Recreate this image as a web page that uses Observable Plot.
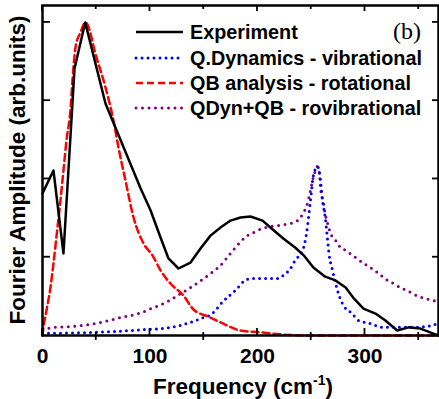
<!DOCTYPE html>
<html><head><meta charset="utf-8">
<script src="https://cdn.jsdelivr.net/npm/d3@7"></script>
<script src="https://cdn.jsdelivr.net/npm/@observablehq/plot@0.6"></script>
<style>body{margin:0;background:#fff}</style>
</head><body><div id="chart"></div>
<script>
// Experiment (black solid)
const expFreq = [0,10.2,19.5,29.8,39.7,58.6,91.2,100.5,109.8,117.2,126.5,137.7,147,156.3,165.6,174.9,184.2,193.5,204.7,212,224,235,243,252,263,272.6,282,289,298.6,309.8,319,330,340.5,351.6,363.7,368.4];
const expAmp  = [0.454,0.527,0.262,0.853,1.0,0.741,0.470,0.400,0.313,0.246,0.214,0.233,0.278,0.319,0.345,0.367,0.377,0.380,0.367,0.345,0.310,0.281,0.256,0.217,0.188,0.176,0.153,0.121,0.086,0.070,0.048,0.016,0.026,0.022,0.006,0.0];
// Q.Dynamics - vibrational (blue dotted)
const vibFreq = [0,50,95.8,110,128,147,158,168,179.5,190,196,209,218.6,224,230.7,235,242,245.6,249.3,252,255.8,258.6,260.5,263,265,266.5,269.8,274.4,279,288,294,305,317,330,345,358,367.4];
const vibAmp  = [0.007,0.010,0.019,0.022,0.032,0.054,0.070,0.109,0.144,0.179,0.182,0.182,0.182,0.192,0.214,0.240,0.272,0.326,0.431,0.511,0.540,0.495,0.431,0.377,0.313,0.262,0.208,0.144,0.102,0.070,0.048,0.038,0.026,0.026,0.026,0.029,0.038];
// QB analysis - rotational (red dashed)
const rotFreq = [0,0.9,3.7,7.4,10.2,13,16.7,19.5,22.3,26,28,30.7,35.3,40,50.2,58.6,66,70.7,77.2,84.7,94,102.3,109.8,119,131,140.5,153.5,165.6,184,203,224,252,368.4];
const rotAmp  = [0,0.026,0.080,0.153,0.230,0.316,0.431,0.527,0.623,0.72,0.82,0.92,0.968,1.0,0.888,0.792,0.687,0.600,0.495,0.377,0.294,0.256,0.208,0.166,0.128,0.083,0.061,0.042,0.016,0.010,0.003,0,0];
// QDyn+QB - rovibrational (purple dotted)
const rovFreq = [0,12,27,42.8,58.6,73.5,89.3,103.3,114.4,130.2,137.7,148.8,156.3,165.6,174.9,179.5,190.7,196.3,207.4,218.6,230.7,237.2,242.8,246.5,249.3,251.2,253,255.8,257.7,258.6,261.4,263.3,265,268,272.6,277.2,281.9,288.4,297.7,305,311.6,320.9,326.5,333,340.5,349.8,356.3,362.8,368.4];
const rovAmp  = [0.019,0.026,0.029,0.035,0.045,0.058,0.070,0.089,0.105,0.137,0.153,0.179,0.198,0.224,0.262,0.281,0.319,0.329,0.345,0.351,0.358,0.367,0.393,0.422,0.463,0.495,0.518,0.540,0.518,0.473,0.422,0.383,0.361,0.326,0.304,0.281,0.272,0.256,0.233,0.217,0.201,0.176,0.166,0.153,0.141,0.125,0.118,0.112,0.108];

const xTickLabels = [0,100,200,300];
const xMinorTicks = [50,150,250,350];
const yTicks = [0.25,0.5,0.75,1.0];
const seriesNames = ["Experiment","Q.Dynamics - vibrational","QB analysis - rotational","QDyn+QB - rovibrational"];
const panelLabel = "(b)";
const xTitle = "Frequency (cm";
const xTitleSup = "-1";
const yTitle = "Fourier Amplitude (arb.units)";

const toRows = (f, a) => f.map((v, i) => ({f: v, a: a[i]}));
const expData = toRows(expFreq, expAmp);
const vibData = toRows(vibFreq, vibAmp);
const rotData = toRows(rotFreq, rotAmp);
const rovData = toRows(rovFreq, rovAmp);

const styles = [
  {stroke:"#000000", strokeWidth:2.5, strokeDasharray:null, cap:"butt"},
  {stroke:"#0000ff", strokeWidth:3, strokeDasharray:"0 6", cap:"round"},
  {stroke:"#ff0000", strokeWidth:2.5, strokeDasharray:"7 4", cap:"butt"},
  {stroke:"#800080", strokeWidth:3, strokeDasharray:"0 6.5", cap:"round"}
];
const SANS = "'Liberation Sans', Arial, sans-serif";

const plot = Plot.plot({
  width: 439, height: 399,
  marginLeft: 42, marginRight: 1, marginTop: 5, marginBottom: 64,
  style: {fontFamily: SANS, fontSize: "21px", fontWeight: "bold", background: "white", color: "black"},
  x: {domain: [0, 368.4], ticks: xTickLabels, tickSize: 0, tickPadding: 13, tickFormat: d => String(d), label: null},
  y: {domain: [0, 1.054], axis: null},
  marks: [
    Plot.line(rovData, {x: "f", y: "a", stroke: styles[3].stroke, strokeWidth: styles[3].strokeWidth, strokeDasharray: styles[3].strokeDasharray, strokeLinecap: "round", curve: "monotone-x"}),
    Plot.line(vibData, {x: "f", y: "a", stroke: styles[1].stroke, strokeWidth: styles[1].strokeWidth, strokeDasharray: styles[1].strokeDasharray, strokeLinecap: "round", curve: "monotone-x"}),
    Plot.line(rotData, {x: "f", y: "a", stroke: styles[2].stroke, strokeWidth: styles[2].strokeWidth, strokeDasharray: styles[2].strokeDasharray, curve: "monotone-x"}),
    Plot.line(expData, {x: "f", y: "a", stroke: styles[0].stroke, strokeWidth: styles[0].strokeWidth, curve: "linear"}),
    Plot.frame({stroke: "black", strokeWidth: 2.5})
  ]
});
document.getElementById("chart").appendChild(plot);

const xs = plot.scale("x"), ys = plot.scale("y");
const svg = d3.select(plot);
const [yB, yT] = ys.range;
const [xL, xR] = xs.range;
const g = svg.append("g").attr("stroke", "black").attr("stroke-width", 1.8);
xTickLabels.forEach(v => {
  const px = xs.apply(v);
  g.append("line").attr("x1", px).attr("x2", px).attr("y1", yB).attr("y2", yB - 7);
  g.append("line").attr("x1", px).attr("x2", px).attr("y1", yT).attr("y2", yT + 6);
});
xMinorTicks.forEach(v => {
  const px = xs.apply(v);
  g.append("line").attr("x1", px).attr("x2", px).attr("y1", yB - 3).attr("y2", yB + 5);
  g.append("line").attr("x1", px).attr("x2", px).attr("y1", yT).attr("y2", yT + 4);
});
yTicks.forEach(v => {
  const py = ys.apply(v);
  g.append("line").attr("x1", xL).attr("x2", xL + 8).attr("y1", py).attr("y2", py);
  g.append("line").attr("x1", xR).attr("x2", xR - 6).attr("y1", py).attr("y2", py);
});

// axis titles
const xt = svg.append("text").attr("x", 243).attr("y", 394).attr("text-anchor", "middle")
  .attr("font-family", SANS).attr("font-weight", "bold").attr("font-size", 22.5).attr("fill", "black");
xt.append("tspan").text(xTitle);
xt.append("tspan").attr("font-size", 14).attr("dy", -9).text(xTitleSup);
xt.append("tspan").attr("dy", 9).text(")");

svg.append("text").attr("transform", "translate(25,170) rotate(-90)").attr("text-anchor", "middle")
  .attr("font-family", SANS).attr("font-weight", "bold").attr("font-size", 22.5).attr("fill", "black")
  .text(yTitle);

// legend
const lg = svg.append("g");
const rowY = [32, 58, 83, 108];
seriesNames.forEach((name, i) => {
  const s = styles[i];
  const ln = lg.append("line").attr("x1", 136).attr("x2", 183).attr("y1", rowY[i]).attr("y2", rowY[i])
    .attr("stroke", s.stroke).attr("stroke-width", s.strokeWidth).attr("stroke-linecap", s.cap);
  if (s.strokeDasharray) ln.attr("stroke-dasharray", s.strokeDasharray);
  lg.append("text").attr("x", 190).attr("y", rowY[i] + 7).attr("text-anchor", "start")
    .attr("font-family", SANS).attr("font-weight", "bold").attr("font-size", 19.8).attr("fill", "black")
    .text(name);
});
svg.append("text").attr("x", 393).attr("y", 39).attr("text-anchor", "start")
  .attr("font-family", "'Liberation Serif', 'Times New Roman', serif").attr("font-weight", "normal").attr("font-size", 24).attr("fill", "black")
  .text(panelLabel);
</script>
</body></html>
